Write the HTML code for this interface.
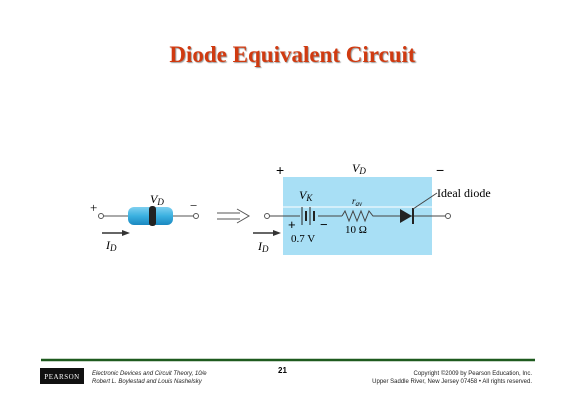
<!DOCTYPE html>
<html><head><meta charset="utf-8"><style>
body{margin:0;width:585px;height:414px;background:#fff;position:relative;overflow:hidden;font-family:"Liberation Sans",sans-serif}
.t{position:absolute}
</style></head><body>
<div class="t" style="left:0;width:585px;top:42px;text-align:center;font-family:'Liberation Serif',serif;font-weight:bold;font-size:23px;color:#d03a10;text-shadow:1px 1px 1px #999">Diode Equivalent Circuit</div>
<svg width="585" height="414" style="position:absolute;left:0;top:0" font-family="Liberation Serif, serif">
<defs><linearGradient id="g" x1="0" y1="0" x2="0" y2="1"><stop offset="0" stop-color="#7fd0f0"/><stop offset="0.5" stop-color="#3ab0e0"/><stop offset="1" stop-color="#1a88c0"/></linearGradient></defs>
<rect x="283" y="177" width="149" height="78" fill="#a8dff5"/>
<line x1="283" y1="207" x2="432" y2="207" stroke="#fff" stroke-width="1"/>
<g stroke="#555" stroke-width="1" fill="#fff">
<line x1="101" y1="216" x2="196" y2="216"/>
<circle cx="101" cy="216" r="2.5"/><circle cx="196" cy="216" r="2.5"/>
</g>
<rect x="128" y="207" width="45" height="18" rx="6" fill="url(#g)"/>
<rect x="149" y="206" width="7" height="20" rx="3" fill="#222"/>
<text x="90" y="212" font-size="13">+</text><text x="190" y="210" font-size="13">−</text>
<text x="150" y="203" font-size="12" font-style="italic">V<tspan font-size="9" dy="2">D</tspan></text>
<line x1="102" y1="233" x2="125" y2="233" stroke="#333" stroke-width="1.5"/><polygon points="130,233 122,230 122,236" fill="#333"/>
<text x="106" y="249" font-size="12" font-style="italic">I<tspan font-size="9" dy="2">D</tspan></text>
<g stroke="#555" fill="none"><path d="M217,213 H240 M217,219 H240 M237,209 L249,216 L237,223"/></g>
<g stroke="#444" stroke-width="1" fill="none">
<line x1="267" y1="216" x2="300" y2="216"/>
<line x1="318" y1="216" x2="342" y2="216"/>
<polyline points="342,216 345,211 349,221 353,211 357,221 361,211 365,221 369,211 373,216 375,216"/>
<line x1="375" y1="216" x2="448" y2="216"/>
</g>
<g stroke="#222"><line x1="302" y1="207" x2="302" y2="225" stroke-width="1"/><line x1="306" y1="211" x2="306" y2="221" stroke-width="2"/><line x1="310" y1="207" x2="310" y2="225" stroke-width="1"/><line x1="314" y1="211" x2="314" y2="221" stroke-width="2"/></g>
<polygon points="400,209 400,223 412,216" fill="#222"/><line x1="413" y1="208" x2="413" y2="224" stroke="#222" stroke-width="2"/>
<circle cx="267" cy="216" r="2.5" fill="#fff" stroke="#555"/><circle cx="448" cy="216" r="2.5" fill="#fff" stroke="#555"/>
<line x1="413" y1="209" x2="437" y2="193" stroke="#444"/>
<text x="437" y="197" font-size="12">Ideal diode</text>
<text x="276" y="175" font-size="14" font-family="Liberation Sans">+</text>
<text x="436" y="175" font-size="14" font-family="Liberation Sans">−</text>
<text x="352" y="172" font-size="12" font-style="italic">V<tspan font-size="9" dy="2">D</tspan></text>
<text x="299" y="199" font-size="12" font-style="italic">V<tspan font-size="9" dy="2">K</tspan></text>
<text x="352" y="204" font-size="9" font-style="italic">r<tspan font-size="7" dy="2">av</tspan></text>
<text x="288" y="229" font-size="13" font-family="Liberation Sans">+</text>
<text x="320" y="229" font-size="13" font-family="Liberation Sans">−</text>
<text x="291" y="242" font-size="11">0.7 V</text>
<text x="345" y="233" font-size="11">10 Ω</text>
<line x1="253" y1="233" x2="276" y2="233" stroke="#333" stroke-width="1.5"/><polygon points="281,233 273,230 273,236" fill="#333"/>
<text x="258" y="250" font-size="12" font-style="italic">I<tspan font-size="9" dy="2">D</tspan></text>
<line x1="41" y1="360" x2="535" y2="360" stroke="#1e5a1e" stroke-width="2.5"/>
<rect x="40" y="368" width="44" height="16" fill="#111"/>
<text x="62" y="379" font-size="7" fill="#fff" text-anchor="middle" letter-spacing="0.5">PEARSON</text>
</svg>
<div class="t" style="left:92px;top:370px;font-size:6px;font-style:italic;line-height:8px;color:#222">Electronic Devices and Circuit Theory, 10/e<br>Robert L. Boylestad and Louis Nashelsky</div>
<div class="t" style="left:278px;top:366px;font-size:8px;font-weight:bold">21</div>
<div class="t" style="right:53px;top:370px;font-size:6px;line-height:8px;text-align:right;color:#222">Copyright ©2009 by Pearson Education, Inc.<br>Upper Saddle River, New Jersey 07458 • All rights reserved.</div>
</body></html>
